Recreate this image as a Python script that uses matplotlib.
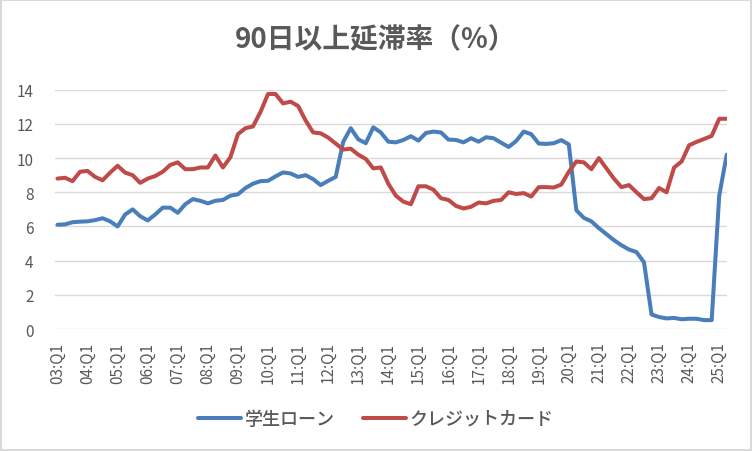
import matplotlib
matplotlib.use("Agg")
import matplotlib.pyplot as plt

plt.rcParams['font.family'] = ['Noto Sans CJK JP', 'DejaVu Sans']

# 2003Q1 - 2025Q2, quarterly (percent of balance 90+ days delinquent)
years = list(range(3, 26))
tick_labels = [f"{y:02d}:Q1" for y in years]

student_loan = [
    6.1, 6.12, 6.25, 6.28, 6.3, 6.37, 6.48, 6.3,
    6.0, 6.7, 7.0, 6.6, 6.35, 6.7, 7.1, 7.1,
    6.8, 7.3, 7.6, 7.5, 7.35, 7.5, 7.55, 7.8,
    7.88, 8.25, 8.5, 8.65, 8.67, 8.93, 9.16, 9.1,
    8.9, 9.0, 8.77, 8.42, 8.67, 8.9, 10.95, 11.75,
    11.1, 10.87, 11.8, 11.5, 10.96, 10.92, 11.06, 11.28,
    11.02, 11.47, 11.55, 11.5, 11.08, 11.06, 10.92, 11.16,
    10.96, 11.22, 11.16, 10.9, 10.65, 11.0, 11.55, 11.4,
    10.85, 10.83, 10.87, 11.05, 10.8, 6.95, 6.5, 6.3,
    5.9, 5.55, 5.2, 4.9, 4.65, 4.5, 3.9, 0.85,
    0.7, 0.62, 0.65, 0.57, 0.6, 0.6, 0.52, 0.52,
    7.8, 10.2,
]

credit_card = [
    8.8, 8.85, 8.65, 9.2, 9.25, 8.9, 8.7, 9.15,
    9.55, 9.15, 9.0, 8.55, 8.8, 8.95, 9.2, 9.6,
    9.75, 9.35, 9.35, 9.45, 9.45, 10.15, 9.45, 10.05,
    11.4, 11.75, 11.85, 12.7, 13.75, 13.75, 13.2, 13.3,
    13.05, 12.2, 11.5, 11.45, 11.2, 10.85, 10.5, 10.55,
    10.2, 9.95, 9.4, 9.45, 8.5, 7.8, 7.45, 7.3,
    8.35, 8.35, 8.15, 7.65, 7.55, 7.2, 7.05, 7.15,
    7.4, 7.35, 7.5, 7.55, 8.0, 7.9, 7.95, 7.75,
    8.3, 8.3, 8.28, 8.45, 9.2, 9.8, 9.75, 9.35,
    10.0, 9.4, 8.8, 8.3, 8.42, 8.0, 7.6, 7.65,
    8.25, 8.0, 9.45, 9.8, 10.75, 10.95, 11.12, 11.3,
    12.3, 12.3,
]

BLUE = '#4a7ebb'
RED = '#be4b48'
TEXT = '#595959'
GRID = '#d9d9d9'

fig = plt.figure(figsize=(7.52, 4.52), dpi=100)
fig.patch.set_facecolor('white')
fig.patch.set_edgecolor(GRID)
fig.patch.set_linewidth(1.5)

ax = fig.add_axes([0.0731, 0.2699, 0.894, 0.5294])

x = list(range(len(student_loan)))
ax.plot(x, student_loan, color=BLUE, linewidth=2.9, solid_capstyle='round',
        solid_joinstyle='round', label='学生ローン', zorder=3)
ax.plot(x, credit_card, color=RED, linewidth=2.9, solid_capstyle='round',
        solid_joinstyle='round', label='クレジットカード', zorder=3)

ax.set_xlim(-0.33, 89.07)
ax.set_ylim(0, 14)
ax.set_yticks(range(0, 15, 2))
ax.set_xticks(range(0, len(x), 4))
ax.set_xticklabels(tick_labels, rotation=90)

ax.grid(axis='y', color=GRID, linewidth=1)
ax.set_axisbelow(True)
for s in ax.spines.values():
    s.set_visible(False)
ax.tick_params(axis='both', length=0, colors=TEXT, labelsize=11)
ax.tick_params(axis='y', pad=15.5)
ax.tick_params(axis='x', pad=9)

fig.text(0.5, 1 - 40 / 452, '90日以上延滞率（%）', ha='center', va='center',
         fontsize=20, fontweight='bold', color=TEXT)

leg = fig.legend(loc='center', bbox_to_anchor=(0.5, 0.071), ncol=2, frameon=False,
                 prop={'size': 13, 'weight': 'medium'}, handlelength=2.4,
                 handletextpad=0.2, columnspacing=1.55)
for t in leg.get_texts():
    t.set_color(TEXT)

fig.savefig('out.png', dpi=100)
